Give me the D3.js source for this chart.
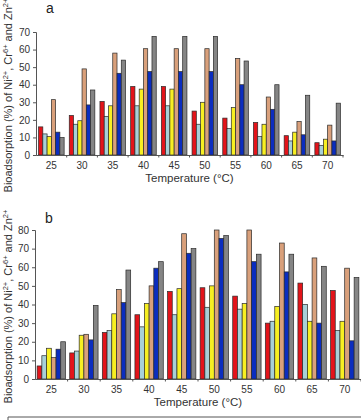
<!DOCTYPE html>
<html>
<head>
    <meta charset="utf-8" />
    <title>Bioadsorption vs temperature</title>
    <script src="https://d3js.org/d3.v7.min.js" charset="utf-8"></script>
    <style>
        body { margin: 0; background: #fff; }
        text { font-family: "Liberation Sans", Arial, sans-serif; }
    </style>
</head>
<body>
    <script>
        // Temperature groups and the six series (order of bars inside each group)
        const temps = ["25", "30", "35", "40", "45", "50", "55", "60", "65", "70"];
        const seriesColors = ["#e3141a", "#a8d0d8", "#f7ef22", "#d9a07b", "#0b2dbf", "#858585"];

        // panel a values, one array per series
        const aRed    = [16, 22.5, 30.5, 39, 39, 25, 21, 18.5, 11, 7];
        const aLight  = [12, 17.5, 22, 28, 28, 17.5, 15, 10.5, 8, 5.5];
        const aYellow = [10.5, 19.5, 28, 37.5, 37.5, 30, 27, 17.5, 13, 9];
        const aTan    = [31.5, 49, 58, 60.5, 60.5, 60.5, 55, 33, 19, 17];
        const aBlue   = [13, 28.5, 46.5, 47.5, 47.5, 47.5, 40, 26, 11.5, 8];
        const aGray   = [10, 37, 54, 67.5, 67.5, 67.5, 53.5, 40, 34, 29.5];

        // panel b values
        const bRed    = [7, 14, 25, 34.5, 47, 49, 44.5, 30, 51.5, 47.5];
        const bLight  = [12.5, 15, 26, 28, 34.5, 38.5, 37.5, 31, 40, 26];
        const bYellow = [16.5, 23.5, 35, 40.5, 48.5, 50, 40.5, 39, 31, 31];
        const bTan    = [11.5, 24, 48, 50, 78, 80, 80, 73, 65, 59.5];
        const bBlue   = [16, 21, 41, 59.5, 67.5, 75.5, 63, 57.5, 30, 20.5];
        const bGray   = [20, 39.5, 58.5, 63, 70, 77, 67, 67, 60.5, 54.5];

        const aTicks = [0, 10, 20, 30, 40, 50, 60, 70];
        const bTicks = [0, 10, 20, 30, 40, 50, 60, 70, 80];

        const width = 361, height = 420;
        const svg = d3.select("body").append("svg")
            .attr("width", width)
            .attr("height", height);

        function drawPanel(opts) {
            const series = opts.series;
            const x0 = d3.scaleBand().domain(temps).range([opts.left, opts.right]).padding(0);
            const x1 = d3.scaleBand().domain(d3.range(series.length))
                .range([0, x0.bandwidth()]).paddingInner(0).paddingOuter(opts.outer);
            const y = d3.scaleLinear().domain([0, opts.max]).range([opts.bottom, opts.top]);

            const g = svg.append("g");

            // bars
            const groups = g.selectAll(".grp")
                .data(temps)
                .enter().append("g")
                .attr("class", "grp")
                .attr("transform", t => `translate(${x0(t)},0)`);

            groups.selectAll("rect")
                .data((t, i) => series.map((s, k) => ({ k: k, v: s[i] })))
                .enter().append("rect")
                .attr("x", d => x1(d.k))
                .attr("y", d => y(d.v))
                .attr("width", x1.bandwidth())
                .attr("height", d => y(0) - y(d.v))
                .attr("fill", d => seriesColors[d.k])
                .attr("stroke", "#2a2a2a")
                .attr("stroke-width", 0.7);

            // y axis
            const yAxis = g.append("g")
                .attr("transform", `translate(${opts.left},0)`)
                .call(d3.axisLeft(y).tickValues(opts.ticks).tickSize(3).tickPadding(3));
            yAxis.select(".domain").attr("stroke", "#555");
            yAxis.selectAll(".tick line").attr("stroke", "#555");
            yAxis.selectAll("text").attr("font-size", 10).attr("fill", "#333")
                .attr("font-family", "Liberation Sans, Arial, sans-serif");

            // x axis: labels centred in groups, small ticks on group boundaries
            const xAxis = g.append("g")
                .attr("transform", `translate(0,${opts.bottom})`)
                .call(d3.axisBottom(x0).tickSize(0).tickPadding(7));
            xAxis.select(".domain").attr("stroke", "#555");
            xAxis.selectAll("text").attr("font-size", 10).attr("fill", "#333")
                .attr("font-family", "Liberation Sans, Arial, sans-serif");
            g.selectAll(".bound")
                .data(temps)
                .enter().append("line")
                .attr("x1", t => x0(t) + x0.bandwidth())
                .attr("x2", t => x0(t) + x0.bandwidth())
                .attr("y1", opts.bottom)
                .attr("y2", opts.bottom + 2.5)
                .attr("stroke", "#555");

            // axis titles
            g.append("text")
                .attr("x", (opts.left + opts.right) / 2)
                .attr("y", opts.bottom + 27)
                .attr("text-anchor", "middle")
                .attr("font-size", 11.5)
                .attr("fill", "#333")
                .text("Temperature (\u00B0C)");

            const yl = g.append("text")
                .attr("transform", `translate(12,${(opts.top + opts.bottom) / 2 + 2}) rotate(-90)`)
                .attr("text-anchor", "middle")
                .attr("font-size", 11)
                .attr("fill", "#333");
            yl.append("tspan").text("Bioadsorption (%) of Ni");
            yl.append("tspan").attr("font-size", 7.5).attr("dy", -4).text("2+");
            yl.append("tspan").attr("dy", 4).text(", Cr");
            yl.append("tspan").attr("font-size", 7.5).attr("dy", -4).text("6+");
            yl.append("tspan").attr("dy", 4).text(" and Zn");
            yl.append("tspan").attr("font-size", 7.5).attr("dy", -4).text("2+");

            // panel letter
            g.append("text")
                .attr("x", opts.left + 10)
                .attr("y", opts.letterY)
                .attr("font-size", 14)
                .attr("fill", "#222")
                .text(opts.letter);
        }

        drawPanel({
            letter: "a", letterY: 13,
            series: [aRed, aLight, aYellow, aTan, aBlue, aGray],
            ticks: aTicks, max: 70,
            left: 36, right: 343, top: 32, bottom: 155,
            outer: 0.6
        });

        drawPanel({
            letter: "b", letterY: 223,
            series: [bRed, bLight, bYellow, bTan, bBlue, bGray],
            ticks: bTicks, max: 80,
            left: 35, right: 361, top: 230, bottom: 379,
            outer: 0.45
        });

        // top edge of the (cut off) legend box
        svg.append("path")
            .attr("d", `M8,${height + 2}V417H${width + 2}`)
            .attr("fill", "none")
            .attr("stroke", "#555")
            .attr("stroke-width", 1);
    </script>
</body>
</html>
